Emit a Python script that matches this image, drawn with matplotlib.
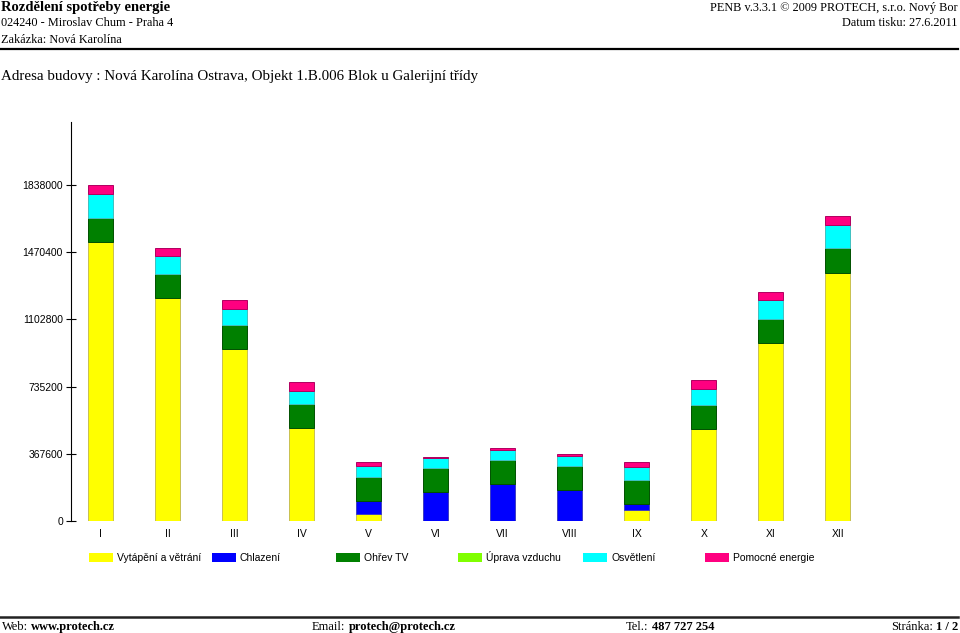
import matplotlib
matplotlib.use("Agg")
import matplotlib.pyplot as plt
from matplotlib.patches import Rectangle
from matplotlib.lines import Line2D
import numpy as np

months = ["I", "II", "III", "IV", "V", "VI", "VII", "VIII", "IX", "X", "XI", "XII"]
series_names = ["Vytápění a větrání", "Chlazení", "Ohřev TV", "Úprava vzduchu", "Osvětlení", "Pomocné energie"]
series_colors = ["#ffff00", "#0000ff", "#008000", "#80ff00", "#00ffff", "#ff0080"]
series_edges = ["#c8c050", "#4040c0", "#005000", "#60c000", "#40c0c0", "#b00060"]

vytapeni = [1527000, 1220000, 939000, 506000, 35000, 0, 0, 0, 57000, 501000, 972000, 1359000]
chlazeni = [0, 0, 0, 0, 73000, 157000, 199500, 166600, 34500, 0, 0, 0]
ohrev_tv = [133000, 133600, 131000, 135000, 131500, 132000, 133000, 131400, 131500, 133000, 133000, 133700]
uprava = [0, 0, 0, 0, 0, 0, 0, 0, 0, 0, 0, 0]
osvetleni = [129000, 97000, 89000, 71000, 62000, 56000, 56500, 58000, 71000, 89400, 104500, 127700]
pomocne = [49000, 43500, 49000, 48000, 18600, 6000, 7500, 7700, 26000, 47600, 45500, 49400]

y_ticks = [0, 367600, 735200, 1102800, 1470400, 1838000]

header_left = ["Rozdělení spotřeby energie", "024240 - Miroslav Chum - Praha 4", "Zakázka: Nová Karolína"]
header_right = ["PENB v.3.3.1 © 2009 PROTECH, s.r.o. Nový Bor", "Datum tisku: 27.6.2011"]
address = "Adresa budovy : Nová Karolína Ostrava, Objekt 1.B.006 Blok u Galerijní třídy"
footer = [("Web: ", "www.protech.cz"), ("Email: ", "protech@protech.cz"),
          ("Tel.: ", "487 727 254"), ("Stránka: ", "1 / 2")]

W, H = 960, 633
fig = plt.figure(figsize=(W / 100, H / 100), dpi=100)
renderer = fig.canvas.get_renderer()

def px(x, y):
    return x / W, 1 - y / H

serif = ["Liberation Serif", "DejaVu Serif"]
sans = ["Liberation Sans", "DejaVu Sans"]

# Header
fig.text(*px(1, 11.5), header_left[0], family=serif, fontsize=10.5, fontweight="bold", va="baseline", ha="left")
fig.text(*px(1, 26), header_left[1], family=serif, fontsize=8.8, va="baseline", ha="left")
fig.text(*px(1, 43), header_left[2], family=serif, fontsize=8.8, va="baseline", ha="left")
fig.text(*px(958, 11.5), header_right[0], family=serif, fontsize=8.8, va="baseline", ha="right")
fig.text(*px(958, 26), header_right[1], family=serif, fontsize=8.8, va="baseline", ha="right")
fig.add_artist(Line2D([0, 958 / W], [1 - 49 / H] * 2, color="black", lw=1.6, transform=fig.transFigure))
fig.text(*px(1, 80), address, family=serif, fontsize=10.8, va="baseline", ha="left")

# Footer
fig.add_artist(Line2D([0, 958 / W], [1 - 617 / H] * 2, color="#222222", lw=1.8, transform=fig.transFigure))
fy = 630
fs_f = 9

def text_width(s, **kw):
    t = fig.text(0, 0, s, **kw)
    w = t.get_window_extent(renderer).width
    t.remove()
    return w

def footer_pair(xpos, reg, bold, align="left"):
    sp = text_width("a a", family=serif, fontsize=fs_f) - text_width("aa", family=serif, fontsize=fs_f)
    w_reg = text_width(reg.strip(), family=serif, fontsize=fs_f) + sp
    w_bold = text_width(bold, family=serif, fontsize=fs_f, fontweight="bold")
    if align == "right":
        xpos = xpos - w_reg - w_bold
    fig.text(*px(xpos, fy), reg.strip(), family=serif, fontsize=fs_f, va="baseline", ha="left")
    fig.text(*px(xpos + w_reg, fy), bold, family=serif, fontsize=fs_f, fontweight="bold", va="baseline", ha="left")

footer_pair(2, *footer[0])
footer_pair(312, *footer[1])
footer_pair(626, *footer[2])
footer_pair(958, *footer[3], align="right")

# Axes
left, right = 70.7, 874.7
top, bottom = 121.7, 520.7
ax = fig.add_axes([left / W, 1 - bottom / H, (right - left) / W, (bottom - top) / H])
x = np.arange(len(months))
data = [vytapeni, chlazeni, ohrev_tv, uprava, osvetleni, pomocne]
base = np.zeros(len(months))
for vals, col, ec in zip(data, series_colors, series_edges):
    v = np.array(vals, dtype=float)
    mask = v > 0
    ax.bar(x[mask], v[mask], bottom=base[mask], width=0.375, color=col, edgecolor=ec, linewidth=0.7)
    base += v

ax.set_xlim(-0.448, 11.552)
ax.set_ylim(0, 2186500)
ax.set_yticks(y_ticks)
ax.set_yticklabels([str(v) for v in y_ticks], family=sans, fontsize=7.5)
ax.set_xticks(x)
ax.set_xticklabels(months, family=sans, fontsize=7.5)
ax.tick_params(axis="x", length=0, pad=6)
ax.tick_params(axis="y", direction="inout", length=7, width=0.8, pad=2)
for s in ["top", "right", "bottom"]:
    ax.spines[s].set_visible(False)
ax.spines["left"].set_linewidth(0.8)

# Legend
sw_x = [89, 212, 336, 458, 583, 705]
for sx, name, col in zip(sw_x, series_names, series_colors):
    fig.add_artist(Rectangle(px(sx, 562), 24 / W, 9.5 / H, facecolor=col, edgecolor="none", transform=fig.transFigure))
    fig.text(*px(sx + 28, 561), name, family=sans, fontsize=7.5, va="baseline", ha="left")

fig.savefig("out.png", dpi=100)
